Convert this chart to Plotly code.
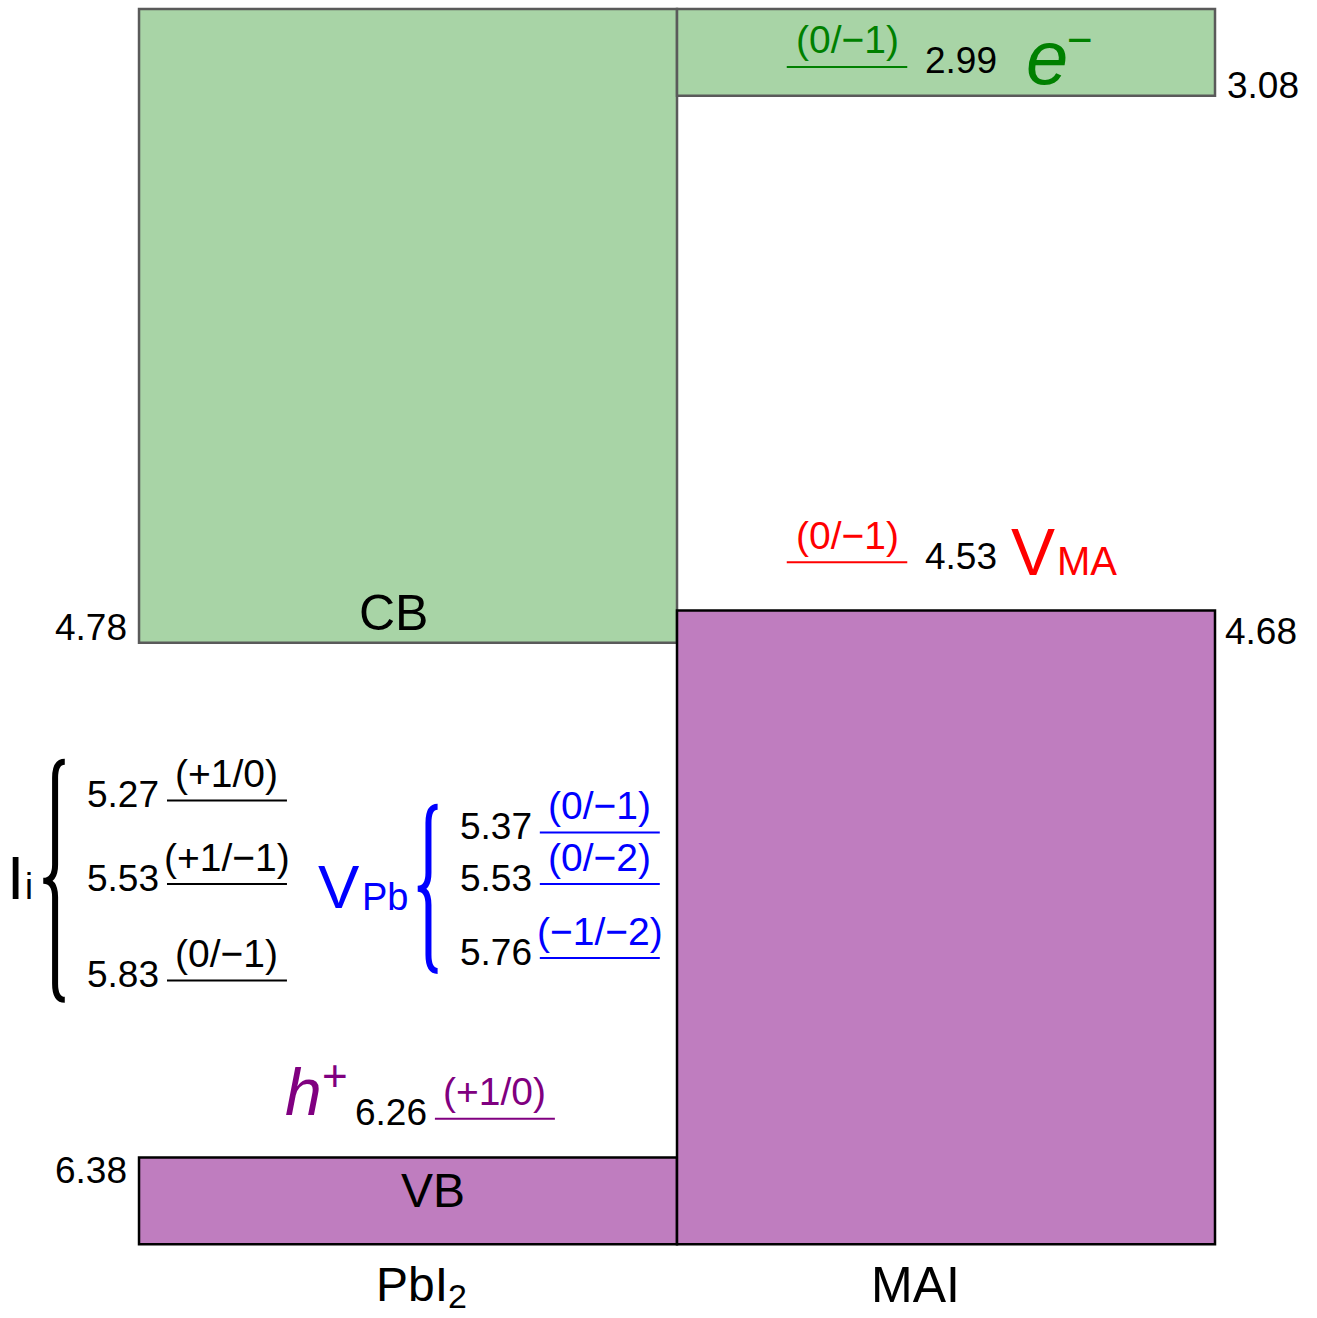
import plotly.graph_objects as go

# ---- band edges (eV below vacuum) ----
materials = ["PbI", "MAI"]
material_sub = ["2", ""]
cbm = [4.78, 3.08]
vbm = [6.38, 4.68]

# ---- defect transition levels (eV) ----
ii_levels = [5.27, 5.53, 5.83]
ii_trans = ["(+1/0)", "(+1/−1)", "(0/−1)"]

vpb_levels = [5.37, 5.53, 5.76]
vpb_trans = ["(0/−1)", "(0/−2)", "(−1/−2)"]

hole_levels = [6.26]
hole_trans = ["(+1/0)"]

elec_levels = [2.99]
elec_trans = ["(0/−1)"]

vma_levels = [4.53]
vma_trans = ["(0/−1)"]

# ---- drawing extents and styles ----
BAND_TOP = 2.81
BAND_BOTTOM = 6.65
FONT = "Liberation Sans, Arial, sans-serif"
CB_FILL, CB_EDGE = "#a8d4a6", "#5a5a5a"
VB_FILL, VB_EDGE = "#bf7dbf", "#000000"
GREEN, RED, BLUE, PURPLE = "#008000", "#ff0000", "#0000ff", "#800080"

NUM_SIZE = 37
TR_SIZE = 39

shapes = []
ann = []


def text(x, y, s, size, color="black", xanchor="center", xshift=0, yshift=0,
         italic=False):
    ann.append(dict(x=x, y=y, xref="x", yref="y", text=s, showarrow=False,
                    font=dict(family=FONT, size=size, color=color,
                              style="italic" if italic else "normal"),
                    xanchor=xanchor, yanchor="middle",
                    xshift=xshift, yshift=yshift))


# ---- band boxes: column i spans x in [i, i+1] ----
for i, c in enumerate(cbm):
    shapes.append(dict(type="rect", xref="x", yref="y", x0=i, x1=i + 1,
                       y0=BAND_TOP, y1=c, fillcolor=CB_FILL,
                       line=dict(color=CB_EDGE, width=2.5), layer="below"))
for i, v in enumerate(vbm):
    shapes.append(dict(type="rect", xref="x", yref="y", x0=i, x1=i + 1,
                       y0=v, y1=BAND_BOTTOM, fillcolor=VB_FILL,
                       line=dict(color=VB_EDGE, width=2.5), layer="below"))

# band edge values
text(0, cbm[0], f"{cbm[0]:.2f}", NUM_SIZE, xanchor="right", xshift=-10, yshift=15)
text(0, vbm[0], f"{vbm[0]:.2f}", NUM_SIZE, xanchor="right", xshift=-10, yshift=-13)
text(2, cbm[1], f"{cbm[1]:.2f}", NUM_SIZE, xanchor="left", xshift=10, yshift=10)
text(2, vbm[1], f"{vbm[1]:.2f}", NUM_SIZE, xanchor="left", xshift=8, yshift=-21)

# CB / VB names inside the PbI2 column
text(0.5, cbm[0], "CB", 50, xshift=-15, yshift=30)
text(0.5, vbm[0], "VB", 48, xshift=25, yshift=-33)

# material names under the columns
text(0.5, BAND_BOTTOM, materials[0], 48, xanchor="right", xshift=42, yshift=-40)
text(0.5, BAND_BOTTOM, material_sub[0], 34, xanchor="left", xshift=38, yshift=-52)
text(1.5, BAND_BOTTOM, materials[1], 50, xshift=-31, yshift=-41)


def levels(vals, trans, x0, x1, color, num_side):
    for v, t in zip(vals, trans):
        shapes.append(dict(type="line", xref="x", yref="y", x0=x0, x1=x1,
                           y0=v, y1=v, line=dict(color=color, width=2)))
        text((x0 + x1) / 2, v, t, TR_SIZE, color=color, yshift=27)
        if num_side == "left":
            text(x0, v, f"{v:.2f}", NUM_SIZE, xanchor="right", xshift=-6,
                 yshift=6)
        else:
            text(x1, v, f"{v:.2f}", NUM_SIZE, xanchor="left", xshift=16,
                 yshift=6)


I_X = (0.052, 0.275)
VPB_X = (0.745, 0.968)
H_X = (0.550, 0.773)
MAI_X = (1.204, 1.428)

levels(ii_levels, ii_trans, *I_X, "black", "left")
levels(vpb_levels, vpb_trans, *VPB_X, BLUE, "left")
levels(hole_levels, hole_trans, *H_X, PURPLE, "left")
levels(elec_levels, elec_trans, *MAI_X, GREEN, "right")
levels(vma_levels, vma_trans, *MAI_X, RED, "right")

# carriers: h+ left of the hole level, e- right of the electron level
text(H_X[0], hole_levels[0], "h", 66, color=PURPLE, xanchor="right",
     xshift=-111, yshift=27, italic=True)
text(H_X[0], hole_levels[0], "+", 44, color=PURPLE, xanchor="left",
     xshift=-115, yshift=43)
text(MAI_X[1], elec_levels[0], "e", 76, color=GREEN, xanchor="left",
     xshift=117, yshift=9, italic=True)
text(MAI_X[1], elec_levels[0], "−", 44, color=GREEN, xanchor="left",
     xshift=158, yshift=27)

# V_MA next to its level
text(MAI_X[1], vma_levels[0], "V", 66, color=RED, xanchor="left",
     xshift=102, yshift=10)
text(MAI_X[1], vma_levels[0], "MA", 40, color=RED, xanchor="left",
     xshift=148, yshift=1)


def brace(vals, xs, xp, xr, pad_top, pad_bot, r, color):
    yt = min(vals) - pad_top
    yb = max(vals) + pad_bot
    ym = (yt + yb) / 2
    path = (f"M{xr},{yt} Q{xs},{yt} {xs},{yt + r} "
            f"L{xs},{ym - r} Q{xs},{ym} {xp},{ym} "
            f"Q{xs},{ym} {xs},{ym + r} "
            f"L{xs},{yb - r} Q{xs},{yb} {xr},{yb}")
    shapes.append(dict(type="path", xref="x", yref="y", path=path,
                       line=dict(color=color, width=6)))
    return ym


ym_ii = brace(ii_levels, -0.156, -0.178, -0.138, 0.12, 0.06, 0.05, "black")
ym_vpb = brace(vpb_levels, 0.538, 0.518, 0.555, 0.08, 0.04, 0.05, BLUE)

# group labels at the brace points
text(-0.2584, ym_ii, "I", 62, xanchor="left", xshift=5, yshift=3)
text(-0.2584, ym_ii, "i", 36, xanchor="left", xshift=23, yshift=-6)
text(0.518, ym_vpb, "V", 62, color=BLUE, xanchor="right", xshift=-56, yshift=2)
text(0.518, ym_vpb, "Pb", 38, color=BLUE, xanchor="right", xshift=-8, yshift=-8)

fig = go.Figure()
fig.update_layout(
    width=1317, height=1318,
    margin=dict(l=0, r=0, t=0, b=0),
    plot_bgcolor="white", paper_bgcolor="white",
    xaxis=dict(range=[-0.2584, 2.1896], visible=False, fixedrange=True),
    yaxis=dict(range=[6.879, 2.782], visible=False, fixedrange=True),
    shapes=shapes, annotations=ann, showlegend=False,
)

fig.write_html("out.html")
